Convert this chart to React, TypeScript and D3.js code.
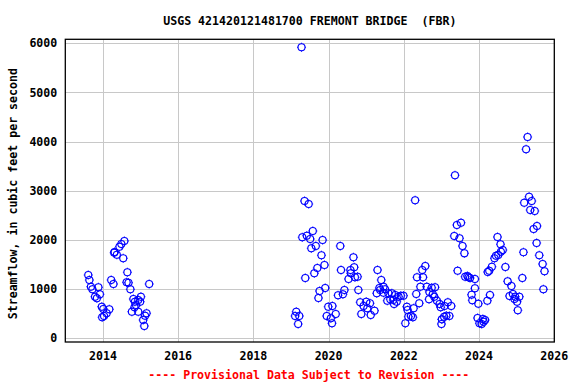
import React from "react";
import * as d3 from "d3";

const TITLE = "USGS 421420121481700 FREMONT BRIDGE  (FBR)";
const Y_LABEL = "Streamflow, in cubic feet per second";
const FOOTER = "---- Provisional Data Subject to Revision ----";

const xTicks = [2014, 2016, 2018, 2020, 2022, 2024, 2026];
const yTicks = [0, 1000, 2000, 3000, 4000, 5000, 6000];

// decimal year of each measurement
const years = [
  2013.61, 2013.64, 2013.68, 2013.72, 2013.79, 2013.84, 2013.88, 2013.92, 2013.97, 2014.01,
  2014.17, 2014.10, 2014.03, 2013.98, 2014.22, 2014.28, 2014.30, 2014.31, 2014.37, 2014.44,
  2014.49, 2014.57, 2014.54, 2014.65, 2014.63, 2014.68, 2014.73, 2014.77, 2014.81, 2014.85,
  2014.84, 2014.88, 2014.94, 2014.99, 2015.01, 2014.94, 2015.16, 2015.12, 2015.07, 2015.10,
  2015.23,
  2019.14, 2019.11, 2019.22, 2019.19, 2019.28, 2019.36, 2019.47, 2019.30, 2019.42, 2019.51,
  2019.58, 2019.38, 2019.54, 2019.66, 2019.84, 2019.81, 2019.62, 2019.70, 2019.89, 2019.76,
  2019.73, 2019.91, 2019.99, 2020.10, 2019.95, 2020.19, 2020.06, 2020.09, 2020.25, 2020.38,
  2020.42, 2020.31, 2020.33, 2020.58, 2020.68, 2020.59, 2020.53, 2020.70, 2020.77, 2020.66,
  2020.79, 2020.84, 2021.00, 2021.10, 2020.93, 2021.03, 2021.22, 2021.12, 2020.87, 2021.30,
  2021.40, 2021.35, 2021.46, 2021.50, 2021.28, 2021.37, 2021.46, 2021.59, 2021.56, 2021.68,
  2021.77, 2021.86, 2021.92, 2021.99, 2021.72, 2021.81, 2021.74, 2021.64, 2022.08, 2022.10,
  2022.26, 2022.19, 2022.12, 2022.24, 2022.04, 2022.30, 2022.41, 2022.33, 2022.44, 2022.35,
  2022.51, 2022.49, 2022.57, 2022.61, 2022.74, 2022.83, 2022.68, 2022.77, 2022.81, 2022.67,
  2022.88, 2022.95, 2022.98, 2023.08, 2023.17, 2023.26, 2023.13, 2023.07, 2023.01, 2023.21,
  2023.00, 2023.36, 2023.41, 2023.34, 2023.52, 2023.48, 2023.56, 2023.61, 2023.43, 2023.63,
  2023.72, 2023.76, 2023.89, 2023.69, 2023.89, 2023.80, 2023.82, 2023.98, 2023.96, 2024.10,
  2024.16, 2024.01, 2024.07, 2024.12, 2024.22, 2024.29, 2024.23, 2024.27, 2024.34, 2024.41,
  2024.45, 2024.51, 2024.58, 2024.63, 2024.57, 2024.49, 2024.70, 2024.76, 2024.86, 2024.81,
  2024.90, 2024.96, 2025.07, 2025.01, 2024.94, 2025.03, 2025.15, 2025.18, 2025.29, 2025.25,
  2025.33, 2025.20, 2025.40, 2025.36, 2025.48, 2025.54, 2025.45, 2025.53, 2025.60, 2025.69,
  2025.74, 2025.71,
];

// streamflow, cubic feet per second
const flows = [
  1288, 1186, 1050, 997, 846, 814, 1037, 895, 643, 596,
  590, 509, 454, 427, 1186, 1104, 1741, 1755, 1700, 1863,
  1918, 1979, 1627, 1342, 1139, 1131, 997, 541, 799, 744,
  631, 677, 779, 744, 846, 541, 509, 460, 372, 250,
  1104,
  541, 454, 454, 291, 5919, 2793, 2732, 2054, 2087, 2020,
  2182, 1227, 1831, 1877, 1999, 1688, 1322, 1430, 1491, 962,
  820, 1023, 643, 657, 454, 494, 407, 305, 875, 895,
  982, 1877, 1389, 1389, 1444, 1322, 1206, 1241, 1253, 1648,
  982, 732, 744, 712, 657, 610, 561, 474, 494, 1389,
  1186, 1023, 1050, 997, 915, 982, 927, 915, 765, 915,
  881, 846, 866, 866, 779, 744, 698, 793, 643, 576,
  610, 454, 439, 427, 305, 2807, 712, 901, 1050, 1241,
  1241, 1389, 1471, 1050, 1029, 1037, 942, 895, 846, 793,
  765, 698, 631, 657, 732, 657, 460, 439, 386, 454,
  291, 3315, 2305, 2081, 2351, 2034, 1877, 1729, 1375, 1253,
  1241, 1227, 1206, 1267, 1017, 887, 773, 704, 413, 393,
  372, 305, 291, 338, 765, 881, 1349, 1375, 1456, 1627,
  1680, 1694, 1761, 1796, 1912, 2060, 1450, 1159, 1064, 860,
  901, 846, 846, 744, 799, 570, 1227, 1749, 4094, 3844,
  2880, 2758, 2793, 2610, 2589, 2284, 2223, 1938, 1688, 1511,
  1363, 997,
];

const W = 576;
const H = 384;
const M = { left: 65.3, right: 554.3, top: 39.3, bottom: 342 };
const FONT = "'DejaVu Sans Mono', 'Liberation Mono', monospace";

export default function App() {
  const x = d3.scaleLinear().domain([2013, 2026]).range([M.left, M.right]);
  const y = d3.scaleLinear().domain([-75, 6081]).range([M.bottom, M.top]);
  const r = 3.5;

  return (
    <svg
      width={W}
      height={H}
      style={{ position: "absolute", left: 0, top: 0, background: "#fff" }}
    >
      <rect x={0} y={0} width={W} height={H} fill="#fff" />
      {/* grid */}
      {yTicks.map((t) => (
        <line
          key={"gy" + t}
          x1={M.left}
          x2={M.right}
          y1={Math.round(y(t)) + 0.5}
          y2={Math.round(y(t)) + 0.5}
          stroke="#c8c8c8"
          strokeWidth={1}
        />
      ))}
      {xTicks.map((t) => (
        <line
          key={"gx" + t}
          x1={Math.round(x(t)) + 0.5}
          x2={Math.round(x(t)) + 0.5}
          y1={M.top}
          y2={M.bottom}
          stroke="#c8c8c8"
          strokeWidth={1}
        />
      ))}
      {/* points */}
      {years.map((yr, i) => {
        const cx = x(yr);
        const cy = y(flows[i]);
        return (
          <g key={"p" + i} stroke="#0000ff" fill="none" strokeWidth={1.1}>
            <circle cx={cx} cy={cy} r={r} />
            <path
              d={`M${cx},${cy - r - 1}V${cy - r}M${cx},${cy + r}V${cy + r + 1}M${cx - r - 1},${cy}H${cx - r}M${cx + r},${cy}H${cx + r + 1}`}
            />
          </g>
        );
      })}
      {/* frame */}
      <rect
        x={M.left}
        y={M.top}
        width={M.right - M.left}
        height={M.bottom - M.top}
        fill="none"
        stroke="#000"
        strokeWidth={1.3}
      />
      {/* y tick labels */}
      {yTicks.map((t) => (
        <text
          key={"ty" + t}
          x={M.left - 8}
          y={y(t)}
          dy="0.35em"
          textAnchor="end"
          fontFamily={FONT}
          fontWeight="bold"
          fontSize={11.6}
          fill="#000"
        >
          {t}
        </text>
      ))}
      {/* x tick labels */}
      {xTicks.map((t) => (
        <text
          key={"tx" + t}
          x={x(t)}
          y={356}
          dy="0.35em"
          textAnchor="middle"
          fontFamily={FONT}
          fontWeight="bold"
          fontSize={11.6}
          fill="#000"
        >
          {t}
        </text>
      ))}
      {/* title */}
      <text
        x={(M.left + M.right) / 2}
        y={21}
        dy="0.35em"
        textAnchor="middle"
        fontFamily={FONT}
        fontWeight="bold"
        fontSize={11.6}
        fill="#000"
        style={{ whiteSpace: "pre" }}
        xmlSpace="preserve"
      >
        {TITLE}
      </text>
      {/* y label */}
      <text
        transform={`translate(13,${(M.top + M.bottom) / 2 + 3}) rotate(-90)`}
        dy="0.35em"
        textAnchor="middle"
        fontFamily={FONT}
        fontWeight="bold"
        fontSize={11.6}
        fill="#000"
      >
        {Y_LABEL}
      </text>
      {/* footer */}
      <text
        x={(M.left + M.right) / 2 - 1}
        y={375}
        dy="0.35em"
        textAnchor="middle"
        fontFamily={FONT}
        fontWeight="bold"
        fontSize={11.6}
        fill="#ff0000"
      >
        {FOOTER}
      </text>
    </svg>
  );
}
